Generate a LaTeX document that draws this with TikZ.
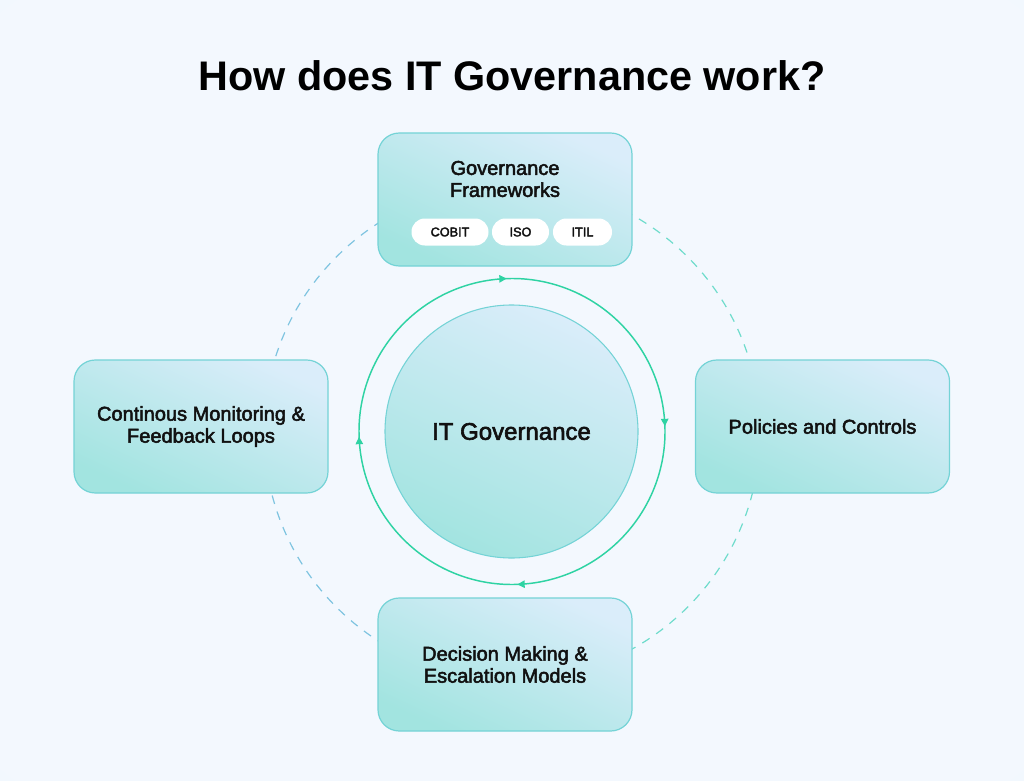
\documentclass[tikz,border=0pt]{standalone}
\usepackage{fontspec}
\setmainfont{Liberation Sans}
\newfontfamily\medfont{Liberation Sans}[FakeBold=2.5]
\usetikzlibrary{arrows.meta,decorations.markings}
\definecolor{bgc}{HTML}{F3F8FE}
\definecolor{bgmid}{HTML}{E9F3FC}
\definecolor{bgedge}{HTML}{D6E9F8}
\definecolor{boxtop}{HTML}{DAEDFA}
\definecolor{boxbot}{HTML}{A2E4E0}
\definecolor{boxline}{HTML}{74D3D6}
\definecolor{ringc}{HTML}{2ED3A3}
\definecolor{dashteal}{HTML}{6FDCCC}
\definecolor{dashblue}{HTML}{7EC4E0}
\definecolor{ink}{HTML}{111111}
\pgfdeclareradialshading{bgshade}{\pgfpoint{0bp}{0bp}}{color(0bp)=(bgc); color(34bp)=(bgc); color(50bp)=(bgmid); color(72bp)=(bgedge)}
\tikzset{
  stepbox/.style={draw=boxline, line width=0.9pt, rounded corners=16pt,
    top color=boxtop, bottom color=boxbot, shading angle=-25,
    minimum width=190.5pt, minimum height=99.75pt, align=center,
    text=ink, font=\medfont\fontsize{15}{16.5}\selectfont},
  corec/.style={circle, draw=boxline, line width=0.8pt,
    top color=boxtop, bottom color=boxbot, shading angle=-25,
    minimum size=189.75pt, text=ink, font=\medfont\fontsize{18}{20}\selectfont},
  pill/.style={fill=white, rounded corners=10pt, minimum height=20.25pt,
    inner sep=0pt, text=ink, font=\medfont\fontsize{9.5}{11}\selectfont},
  dashring/.style={dashed, dash pattern=on 6.5pt off 6pt, line width=0.9pt},
  flowring/.style={draw=ringc, line width=1.1pt},
  lbl/.style={align=center, text=ink, font=\medfont\fontsize{15}{16.5}\selectfont}
}
\begin{document}
\begin{tikzpicture}[x=0.75pt,y=-0.75pt]
\useasboundingbox (0,0) rectangle (1024,781);
% background
\shade[shading=bgshade] (0,0) rectangle (1024,781);
% title
\node[text=black, font=\bfseries\fontsize{31}{36}\selectfont] (title) at (512,76) {How does IT Governance work?};
% dashed outer circle
\draw[dashring, draw=dashteal] (512,432) ++(-90:248) arc[start angle=-90, end angle=90, radius=248];
\draw[dashring, draw=dashblue] (512,432) ++(90:248) arc[start angle=90, end angle=270, radius=248];
% flow ring with arrows
\draw[flowring, postaction={decorate},
  decoration={markings,
    mark=at position 0.01 with {\arrow{Triangle[length=5.5pt,width=5.5pt]}},
    mark=at position 0.26 with {\arrow{Triangle[length=5.5pt,width=5.5pt]}},
    mark=at position 0.51 with {\arrow{Triangle[length=5.5pt,width=5.5pt]}},
    mark=at position 0.76 with {\arrow{Triangle[length=5.5pt,width=5.5pt]}}}]
  (512,431.5) ++(-95.6:153) arc[start angle=-95.6, end angle=264.4, radius=153];
% center circle
\node[corec] (core) at (511.5,431.5) {IT Governance};
% boxes
\node[stepbox] (gov) at (505,199.5) {};
\node[lbl] (govtxt) at (505,179) {Governance\\Frameworks};
\node[pill, minimum width=57.75pt] (cobit) at (450,232) {COBIT};
\node[pill, minimum width=42.75pt] (iso) at (520.5,232) {ISO};
\node[pill, minimum width=44.25pt] (itil) at (582.5,232) {ITIL};
\node[stepbox] (mon) at (201,426.5) {Continous Monitoring \&\\Feedback Loops};
\node[stepbox] (pol) at (822.5,426.5) {Policies and Controls};
\node[stepbox] (dec) at (505,664.5) {Decision Making \&\\Escalation Models};
\end{tikzpicture}
\end{document}
